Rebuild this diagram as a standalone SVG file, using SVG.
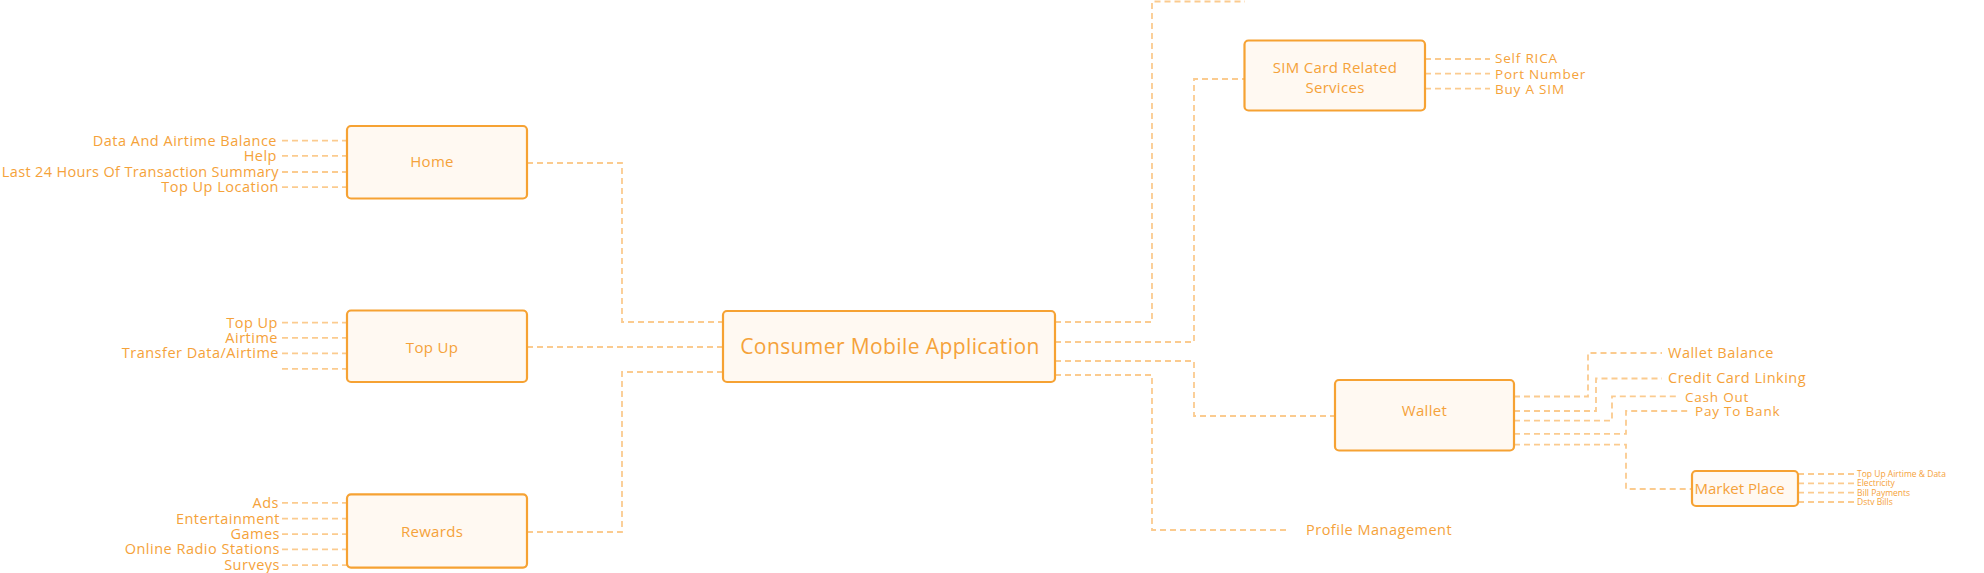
<svg xmlns="http://www.w3.org/2000/svg" width="1984" height="573" viewBox="0 0 1984 573">
<style>
.box{fill:#FFF9F2;stroke:#F6A233;stroke-width:2.2}
.c{fill:none;stroke:#FBCB8F;stroke-width:1.8;stroke-dasharray:6 4}
.t{font-family:"Open Sans","Liberation Sans",sans-serif;fill:#F5A23A}
.n{font-size:15px;text-anchor:middle;letter-spacing:0.3px}
.l{font-size:14.5px;letter-spacing:0.5px}
.r{text-anchor:end}
.s{font-size:8.5px}
.sm{font-size:13.5px;letter-spacing:0.8px}
</style>
<rect width="1984" height="573" fill="#FFFFFF"/>
<g id="connectors">
<path class="c" d="M527,163 H622 V322 H723"/>
<path class="c" d="M527,347 H723"/>
<path class="c" d="M527,532 H622 V372 H723"/>
<path class="c" d="M282,140.6 H347 M282,155.8 H347 M282,172 H347 M282,187.1 H347"/>
<path class="c" d="M282,322.7 H347 M282,337.9 H347 M282,353.4 H347 M282,368.9 H347"/>
<path class="c" d="M282,502.9 H347 M282,518.7 H347 M282,534.2 H347 M282,549.4 H347 M282,565.2 H347"/>
<path class="c" d="M1055,322 H1152 V1.5 H1245"/>
<path class="c" d="M1055,342 H1194 V79 H1244"/>
<path class="c" d="M1055,361 H1194 V416 H1335"/>
<path class="c" d="M1055,375 H1152 V530 H1290"/>
<path class="c" d="M1425,59 H1490 M1425,73.7 H1490 M1425,88.7 H1490"/>
<path class="c" d="M1514,396.5 H1588 V353 H1662"/>
<path class="c" d="M1514,411 H1596 V378.5 H1662"/>
<path class="c" d="M1514,420.6 H1612 V396.4 H1678"/>
<path class="c" d="M1514,433.8 H1626 V411 H1691"/>
<path class="c" d="M1514,444.7 H1626 V489 H1692"/>
<path class="c" d="M1798,474 H1855 M1798,483.3 H1855 M1798,492.7 H1855 M1798,502 H1855"/>
</g>
<g id="home">
<rect class="box" x="347" y="126" width="180" height="72.5" rx="4"/>
<text class="t n" x="432" y="167">Home</text>
<text class="t l r" x="277" y="145.5">Data And Airtime Balance</text>
<text class="t l r" x="277" y="160.7">Help</text>
<text class="t l r" x="279" y="176.9" style="letter-spacing:0.35px">Last 24 Hours Of Transaction Summary</text>
<text class="t l r" x="279" y="192">Top Up Location</text>
</g>
<g id="topup">
<rect class="box" x="347" y="310.5" width="180" height="71.5" rx="4"/>
<text class="t n" x="432" y="352.5">Top Up</text>
<text class="t l r" x="278" y="327.6">Top Up</text>
<text class="t l r" x="278" y="342.8">Airtime</text>
<text class="t l r" x="279" y="358.3">Transfer Data/Airtime</text>
</g>
<g id="rewards">
<rect class="box" x="347" y="494.3" width="180" height="73.3" rx="4"/>
<text class="t n" x="432" y="536.5">Rewards</text>
<text class="t l r" x="279" y="507.8">Ads</text>
<text class="t l r" x="280" y="523.6">Entertainment</text>
<text class="t l r" x="280" y="539.1">Games</text>
<text class="t l r" x="280" y="554.3">Online Radio Stations</text>
<text class="t l r" x="280" y="570.1">Surveys</text>
</g>
<g id="main">
<rect class="box" x="723" y="311" width="332" height="71" rx="4"/>
<text class="t n" x="890" y="353.5" style="font-size:21px;letter-spacing:0.4px">Consumer Mobile Application</text>
</g>
<g id="sim">
<rect class="box" x="1244.5" y="40.5" width="180.5" height="70" rx="4"/>
<text class="t n" x="1335" y="73">SIM Card Related</text>
<text class="t n" x="1335" y="93">Services</text>
<text class="t sm" x="1495" y="63">Self RICA</text>
<text class="t sm" x="1495" y="78.5">Port Number</text>
<text class="t sm" x="1495" y="94">Buy A SIM</text>
</g>
<g id="wallet">
<rect class="box" x="1335" y="380" width="179" height="70.5" rx="4"/>
<text class="t n" x="1424.5" y="416">Wallet</text>
<text class="t l" x="1668" y="358">Wallet Balance</text>
<text class="t l" x="1668" y="383">Credit Card Linking</text>
<text class="t sm" x="1685" y="401.5">Cash Out</text>
<text class="t sm" x="1695" y="416">Pay To Bank</text>
</g>
<g id="marketplace">
<rect class="box" x="1692" y="471" width="106" height="35" rx="4"/>
<text class="t" x="1694.5" y="494" style="font-size:15px">Market Place</text>
<text class="t s" x="1857" y="477">Top Up Airtime &amp; Data</text>
<text class="t s" x="1857" y="486.3">Electricity</text>
<text class="t s" x="1857" y="495.7">Bill Payments</text>
<text class="t s" x="1857" y="505">Dstv Bills</text>
</g>
<g id="profile">
<text class="t l" x="1306" y="535">Profile Management</text>
</g>
</svg>
